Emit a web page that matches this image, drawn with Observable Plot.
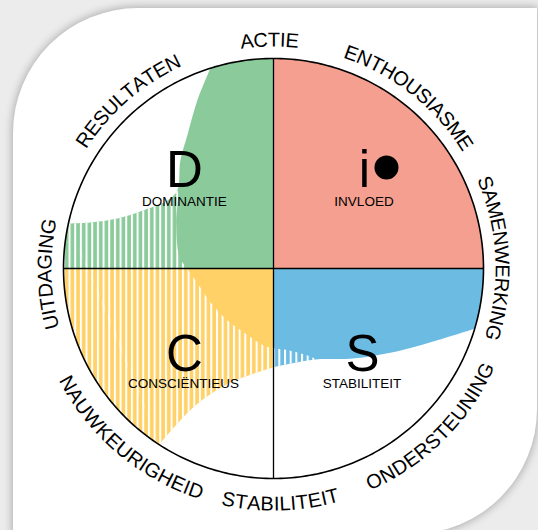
<!DOCTYPE html>
<html><head><meta charset="utf-8">
<script src="https://cdn.jsdelivr.net/npm/d3@7"></script>
<script src="https://cdn.jsdelivr.net/npm/@observablehq/plot@0.6"></script>
<style>
html,body{margin:0;padding:0;background:#ececec;width:538px;height:530px;overflow:hidden;}
#card{position:absolute;left:13px;top:8px;width:524px;height:526px;background:#fff;border-radius:125px 0 125px 0;box-shadow:0 0 9px 1px rgba(0,0,0,0.28);}
#chart{position:absolute;left:0;top:0;}
</style></head><body>
<div id="card"></div><div id="chart"></div>
<script>
// ---------------- data ----------------
const quadNames = ["D", "i", "S", "C"];
const quadSubtitles = ["DOMINANTIE", "INVLOED", "STABILITEIT", "CONSCIËNTIEUS"];
const quadColors = ["#8bcb9b", "#f49f8f", "#6cbbe3", "#ffd167"];
const quadFrom = [90, 0, 270, 180];   // degrees, counter-clockwise from east
const quadTo = [180, 90, 360, 270];
const letterX = [-0.424, 0.433, 0.424, -0.424];
const letterY = [0.386, 0.386, -0.486, -0.486];
const subX = [-0.424, 0.431, 0.421, -0.429];
const subY = [0.300, 0.300, -0.567, -0.567];
const iDot = {x: 0.538, y: 0.481};

// profile (solid area) boundary, polar: angle (deg), radius (circle = 1)
const solidAngles = [107.5, 114.3, 122.5, 130.7, 141, 155.3, 173.3, 180, 194.6, 209, 228.5, 249, 262.6, 270, 281.6, 294.8, 306.5, 314.3, 327.2, 337.6, 343.3];
const solidRadii  = [1.0,   0.88,  0.76,  0.68,  0.59, 0.51, 0.45, 0.41, 0.36, 0.34, 0.33, 0.34, 0.37, 0.38, 0.40, 0.477, 0.536, 0.593, 0.72, 0.875, 1.0];
// hatched (striped) area outer boundary
const stripeTopAngles = [141, 147.3, 156, 162.2, 165.9, 167.6];
const stripeTopRadii  = [0.59, 0.60, 0.68, 0.78, 0.90, 1.0];
const stripeBottomAngles = [237, 238.2, 240.1, 243.3, 250.3, 259.2, 270, 282, 294.8];
const stripeBottomRadii  = [1.0, 0.87, 0.76, 0.67, 0.57, 0.51, 0.47, 0.46, 0.477];

// ring labels
const ringLabels = ["ACTIE", "ENTHOUSIASME", "SAMENWERKING", "ONDERSTEUNING", "STABILITEIT", "NAUWKEURIGHEID", "UITDAGING", "RESULTATEN"];
const ringAngles = [91, 51.7, 2.7, 314.8, 271.7, 230, 181.4, 130.9];
const ringDirections = ["cw", "cw", "cw", "ccw", "ccw", "ccw", "cw", "cw"];

// ---------------- layout ----------------
const W = 538, H = 530, PX = 210, CX = 273, CY = 268;
const FONT = '"Liberation Sans", Arial, Helvetica, sans-serif';
const ringFontSize = 20;
const ringRadiusOut = 1.088, ringRadiusIn = 1.122;

const rad = d => d * Math.PI / 180;
const pt = (a, r) => ({x: r * Math.cos(rad(a)), y: r * Math.sin(rad(a))});
function arcPts(a, b, step) { // interior points from a toward b
  const out = [];
  const dir = b > a ? 1 : -1;
  for (let t = a + dir * step; dir * (b - t) > step * 0.5; t += dir * step) out.push(pt(t, 1));
  return out;
}
// circular segment between arc and chord, pushed ~3px past the chord so that no seam shows
const cap = (a, b) => {
  const pa = pt(a, 1), pb = pt(b, 1);
  const mid = (a + b) / 2, d = Math.cos(rad(Math.abs(b - a) / 2)) - 0.015;
  return [pa, ...arcPts(a, b, 1), pb, pt(mid, d)];
};
const sectorPts = (a, b) => [{x: 0, y: 0}, pt(a, 1), ...arcPts(a, b, 1), pt(b, 1)];

const solidPts = solidAngles.map((a, i) => pt(a, solidRadii[i]));
const topPts = stripeTopAngles.map((a, i) => pt(a, stripeTopRadii[i]));
const botPts = stripeBottomAngles.map((a, i) => pt(a, stripeBottomRadii[i]));
const firstA = stripeTopAngles[0], lastA = stripeBottomAngles[stripeBottomAngles.length - 1];
const topEnd = stripeTopAngles[stripeTopAngles.length - 1], botStart = stripeBottomAngles[0];

// hatched region: curve from bottom-outer, back along solid profile, to top-outer; closed by chord + cap
const stripeCurve = [
  ...botPts,
  ...solidPts.filter((p, i) => solidAngles[i] > firstA && solidAngles[i] < lastA).reverse(),
  ...topPts
];
const stripeCap = cap(topEnd, botStart);
// white region top-left
const white1Curve = [...solidPts.filter((p, i) => solidAngles[i] <= firstA), ...topPts.slice(1)];
const white1Cap = cap(solidAngles[0], topEnd);
// white region bottom
const white2Curve = [...botPts, ...solidPts.filter((p, i) => solidAngles[i] > lastA)];
const white2Cap = cap(botStart, solidAngles[solidAngles.length - 1]);

const sectors = quadNames.map((q, i) => sectorPts(quadFrom[i], quadTo[i]));
const circle = [...arcPts(-1, 360, 1)];

// ring characters
const ctx = document.createElement("canvas").getContext("2d");
ctx.font = `${ringFontSize}px ${FONT}`;
const ringChars = [];
ringLabels.forEach((label, k) => {
  const chars = Array.from(label);
  const widths = chars.map(c => ctx.measureText(c).width);
  const total = d3.sum(widths);
  const cw = ringDirections[k] === "cw";
  const r = cw ? ringRadiusOut : ringRadiusIn;
  let acc = 0;
  chars.forEach((c, j) => {
    const s = acc + widths[j] / 2 - total / 2;
    acc += widths[j];
    const theta = ringAngles[k] + (cw ? -1 : 1) * (s / (r * PX)) * 180 / Math.PI;
    const p = pt(theta, r);
    ringChars.push({x: p.x, y: p.y, ch: c, rot: cw ? 90 - theta : 270 - theta});
  });
});

const letters = quadNames.map((q, i) => ({q, x: letterX[i], y: letterY[i], sub: quadSubtitles[i], sx: subX[i], sy: subY[i]}));

const area = (pts, fill, curve) => Plot.line(pts, {x: "x", y: "y", fill, stroke: "none", curve});

const svg = Plot.plot({
  width: W, height: H,
  margin: 0,
  x: {domain: [-CX / PX, (W - CX) / PX], axis: null},
  y: {domain: [-(H - CY) / PX, CY / PX], axis: null},
  style: {background: "transparent", fontFamily: FONT, overflow: "visible"},
  marks: [
    ...sectors.map((s, i) => area(s, quadColors[i], "linear")),
    area(stripeCurve, "url(#disc-stripes)", "catmull-rom"),
    area(stripeCap, "url(#disc-stripes)", "linear"),
    area(white1Curve, "white", "catmull-rom"),
    area(white1Cap, "white", "linear"),
    area(white2Curve, "white", "catmull-rom"),
    area(white2Cap, "white", "linear"),
    Plot.ruleX([{x: 0, y1: -1, y2: 1}], {x: "x", y1: "y1", y2: "y2", stroke: "black", strokeWidth: 1.3}),
    Plot.ruleY([{y: 0, x1: -1, x2: 1}], {y: "y", x1: "x1", x2: "x2", stroke: "black", strokeWidth: 1.3}),
    Plot.line(circle, {x: "x", y: "y", stroke: "black", strokeWidth: 1.6, curve: "linear-closed"}),
    Plot.text(letters, {x: "x", y: "y", text: "q", fontSize: 51, lineAnchor: "bottom", fill: "black"}),
    Plot.text(letters, {x: "sx", y: "sy", text: "sub", fontSize: 13.5, lineAnchor: "bottom", fill: "black"}),
    Plot.dot([iDot], {x: "x", y: "y", r: 12, fill: "black", stroke: "none"}),
    Plot.text(ringChars, {x: "x", y: "y", text: "ch", rotate: "rot", fontSize: ringFontSize, lineAnchor: "middle", fill: "black"})
  ]
});

const defs = d3.select(svg).insert("defs", ":first-child");
const pat = defs.append("pattern").attr("id", "disc-stripes").attr("patternUnits", "userSpaceOnUse")
  .attr("x", 0).attr("y", 0).attr("width", 5.67).attr("height", 20);
pat.append("rect").attr("x", 0).attr("y", 0).attr("width", 2).attr("height", 20).attr("fill", "white");

document.getElementById("chart").appendChild(svg);
</script>
</body></html>
